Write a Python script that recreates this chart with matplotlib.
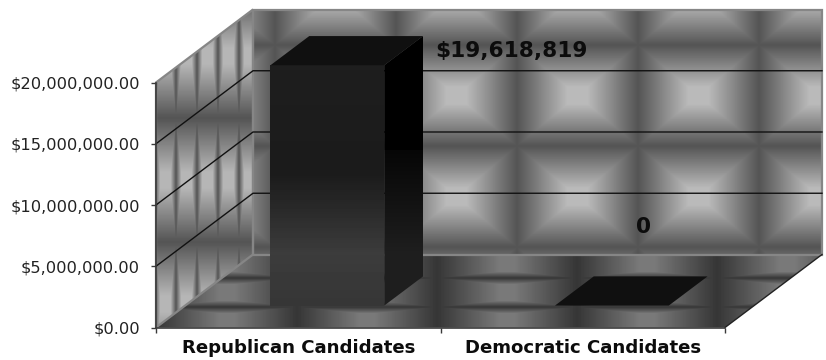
"""
plot.py — Campaign money by party, drawn as a 3D-look column chart.

The box (walls, floor) is a linear projection of the front plane:
a point at depth d is shifted by d * (DEPTH_X, DEPTH_V) in data units.
"""

import numpy as np

import matplotlib
matplotlib.use("Agg")
import matplotlib.pyplot as plt
from matplotlib.patches import Polygon

categories = ["Republican Candidates", "Democratic Candidates"]
values = [19618819, 0]
value_labels = ["$19,618,819", "0"]
label_x = [1.251, 1.715]
label_v = [22600000, 8240000]
y_ticks = [0, 5000000, 10000000, 15000000, 20000000]

W, H = 826, 360
LEFT, RIGHT, BOTTOM, TOP = 156, 725, 327.5, 82.5
V_MAX = 20000000
DEPTH_X = 97 / ((RIGHT - LEFT) / 2)
DEPTH_V = 73 / (BOTTOM - TOP) * V_MAX
BAR_WIDTH = 0.4
BAR_D0, BAR_D1 = 0.3, 0.7


def project(x, v, d):
    return (x + d * DEPTH_X, v + d * DEPTH_V)


def tile(px, py, dark_x, dark_y, low, high, gain_x, gain_y):
    """Bevelled grey tiles, one value per figure pixel."""
    xs, ys = np.meshgrid(np.arange(W) + 0.5, np.arange(H) + 0.5)
    u = np.abs(((xs - dark_x) / px + 0.5) % 1 - 0.5) * 2
    w = np.abs(((ys - dark_y) / py + 0.5) % 1 - 0.5) * 2
    t = np.clip(np.minimum(u * gain_x, w * gain_y), 0, 1)
    return low + (high - low) * t


def draw_wall(bg, ax, corners, texture):
    im = bg.imshow(texture, cmap="gray", vmin=0, vmax=255, extent=(0, W, H, 0),
                   aspect="auto", interpolation="bilinear")
    im.set_clip_path(Polygon(corners, closed=True, transform=ax.transData))
    im.set_clip_box(fig.bbox)


def draw_gradient(ax, corners, stops, greys):
    """Fill a polygon with a top-to-bottom grey ramp."""
    xs = [c[0] for c in corners]
    vs = [c[1] for c in corners]
    ramp = np.interp(np.linspace(0, 1, 256), stops, greys).reshape(-1, 1)
    im = ax.imshow(ramp, cmap="gray", vmin=0, vmax=255, aspect="auto",
                   extent=(min(xs), max(xs), min(vs), max(vs)), zorder=3,
                   interpolation="nearest")
    im.set_clip_path(Polygon(corners, closed=True, transform=ax.transData))
    # images stop at the axes box unless told otherwise, and the bar leans past it
    im.set_clip_box(fig.bbox)


fig = plt.figure(figsize=(W / 100, H / 100), dpi=100)

bg = fig.add_axes([0, 0, 1, 1], zorder=0)
bg.set_axis_off()

ax = fig.add_axes([LEFT / W, 1 - BOTTOM / H, (RIGHT - LEFT) / W, (BOTTOM - TOP) / H], zorder=1)
ax.patch.set_visible(False)

back = [project(0, 0, 1), project(2, 0, 1), project(2, V_MAX, 1), project(0, V_MAX, 1)]
side = [project(0, 0, 0), project(0, 0, 1), project(0, V_MAX, 1), project(0, V_MAX, 0)]
floor = [project(0, 0, 0), project(2, 0, 0), project(2, 0, 1), project(0, 0, 1)]

ax.set_xlim(0, 2)
ax.set_ylim(0, V_MAX)

draw_wall(bg, ax, back, tile(121, 101, 517, 45, 84, 186, 1.2, 1.2))
draw_wall(bg, ax, side, tile(21, 124, 176, 118, 84, 182, 2.0, 1.15))
draw_wall(bg, ax, floor, tile(140, 29, 577, 278, 54, 122, 1.1, 2.2))
bg.set_xlim(0, W)
bg.set_ylim(H, 0)

# wall rims
for corners in (back, side):
    ax.add_patch(Polygon(corners, closed=True, fill=False, edgecolor="#868686",
                         linewidth=1.6, clip_on=False, zorder=1.5))
ax.plot(*zip(project(2, 0, 0), project(2, 0, 1)), color="#222222", lw=1, clip_on=False, zorder=1.6)

# gridlines run along the side wall then across the back wall
for v in y_ticks[1:-1]:
    pts = [project(0, v, 0), project(0, v, 1), project(2, v, 1)]
    ax.plot(*zip(*pts), color="#111111", lw=1, clip_on=False, zorder=2)

for i, v in enumerate(values):
    x0 = i + 0.5 - BAR_WIDTH / 2
    x1 = i + 0.5 + BAR_WIDTH / 2
    top = [project(x0, v, BAR_D0), project(x1, v, BAR_D0), project(x1, v, BAR_D1), project(x0, v, BAR_D1)]
    if v > 0:
        front = [project(x0, 0, BAR_D0), project(x1, 0, BAR_D0), project(x1, v, BAR_D0), project(x0, v, BAR_D0)]
        right = [project(x1, 0, BAR_D0), project(x1, 0, BAR_D1), project(x1, v, BAR_D1), project(x1, v, BAR_D0)]
        draw_gradient(ax, front, [0, 0.45, 0.78, 1], [30, 27, 60, 54])
        draw_gradient(ax, right, [0, 0.42, 0.421, 0.8, 1], [0, 0, 6, 30, 30])
    ax.add_patch(Polygon(top, closed=True, facecolor="#101010", edgecolor="none", clip_on=False, zorder=3.1))

for x, v, text in zip(label_x, label_v, value_labels):
    ax.text(x, v, text, ha="center", va="center", fontsize=15.6, fontweight="bold",
            color="#0c0c0c", zorder=4, clip_on=False)

for name in ("top", "right"):
    ax.spines[name].set_visible(False)
for name in ("left", "bottom"):
    ax.spines[name].set_color("#3a3a3a")
    ax.spines[name].set_linewidth(1.2)
    ax.spines[name].set_zorder(2.5)

ax.set_xlim(0, 2)
ax.set_ylim(0, V_MAX)
ax.set_yticks(y_ticks)
ax.set_yticklabels([f"${v:,.2f}" for v in y_ticks], fontsize=11.7, color="#222222")
ax.set_xticks([0, 1, 2])
ax.set_xticklabels([])
ax.set_xticks([0.5, 1.5], minor=True)
ax.set_xticklabels(categories, minor=True, fontsize=13.1, fontweight="bold", color="#0c0c0c")
ax.tick_params(axis="y", which="major", length=3.6, width=1, color="#3a3a3a", pad=8)
ax.tick_params(axis="x", which="major", length=3.6, width=1, color="#3a3a3a")
ax.tick_params(axis="x", which="minor", length=0, pad=8.5)

fig.savefig("out.png", dpi=100)
plt.close(fig)
